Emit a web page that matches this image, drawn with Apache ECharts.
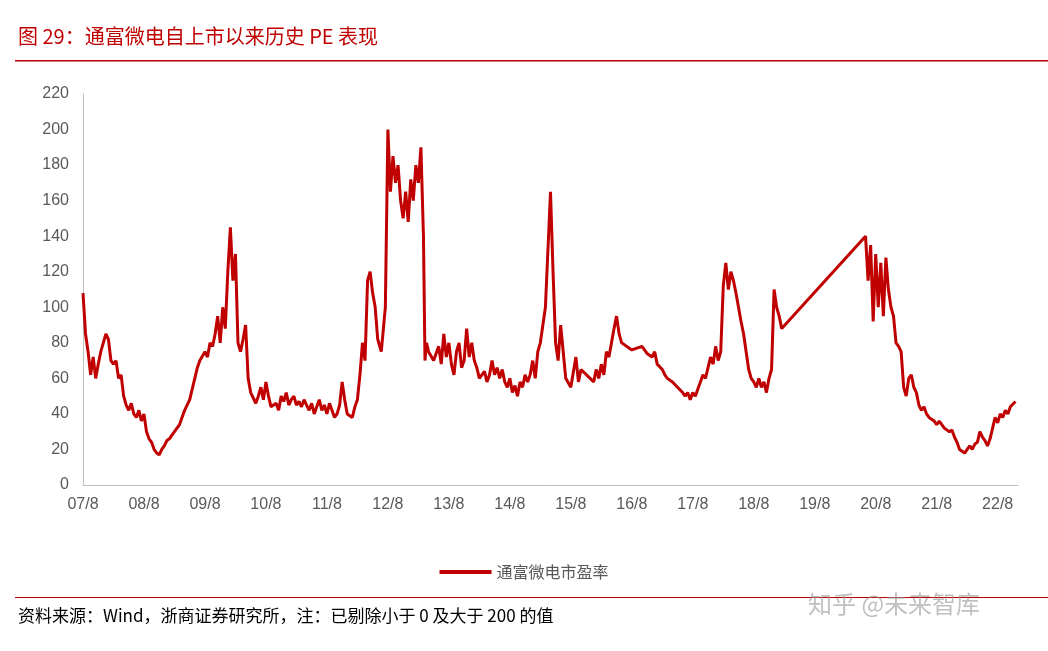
<!DOCTYPE html>
<html><head><meta charset="utf-8">
<script src="https://cdn.jsdelivr.net/npm/echarts@6/dist/echarts.min.js"></script>
<style>html,body{margin:0;padding:0;background:#fff}#c{width:1048px;height:651px}</style>
</head><body><div id="c"></div>
<script>
// [months since 2007/08, PE]
const peData = [
  [0,108],[0.5,85],[1,75],[1.5,62],[2,72],[2.5,60],[3,68],[3.5,75],[4,80],[4.5,85],[5,82],[5.5,70],[6,68],[6.5,70],[7,60],[7.5,62],[8,50],[8.5,45],[9,42],[9.5,46],[10,40],[10.5,38],[11,42],[11.5,36],[12,40],[12.5,30],[13,26],[13.5,24],[14,20],[14.5,18],[15,17],[15.5,20],[16,22],[16.5,25],[17,26],[17.5,28],[18,30],[19,34],[20,42],[21,48],[22,60],[22.5,66],[23,70],[24,75],[24.5,72],[25,80],[25.5,78],[26,85],[26.5,95],[27,80],[27.5,100],[28,88],[28.5,120],[29,145],[29.5,115],[30,130],[30.5,80],[31,75],[31.5,82],[32,90],[32.5,60],[33,52],[34,46],[34.5,50],[35,55],[35.5,48],[36,58],[36.5,50],[37,44],[38,46],[38.5,42],[39,50],[39.5,47],[40,52],[40.5,45],[41,48],[41.5,50],[42,45],[42.5,47],[43,44],[43.5,48],[44,45],[44.5,42],[45,46],[45.5,40],[46,44],[46.5,48],[47,42],[47.5,45],[48,40],[48.5,46],[49,42],[49.5,38],[50,40],[50.5,45],[51,58],[51.5,48],[52,40],[53,38],[53.5,44],[54,48],[54.5,62],[55,80],[55.5,70],[56,115],[56.5,120],[57,108],[57.5,100],[58,82],[58.7,75],[59.5,100],[60,200],[60.5,165],[61,185],[61.5,170],[62,180],[62.5,160],[63,150],[63.5,165],[64,148],[64.5,172],[65,160],[65.5,180],[66,170],[66.5,190],[67,140],[67.3,70],[67.6,80],[68,75],[69,70],[70,78],[70.5,68],[71,85],[71.5,72],[72,80],[72.5,68],[73,62],[73.5,75],[74,80],[74.5,66],[75,70],[75.5,88],[76,72],[76.5,80],[77,70],[77.5,66],[78,60],[79,64],[79.5,58],[80,62],[80.5,70],[81,62],[81.5,66],[82,60],[82.5,65],[83,58],[83.5,55],[84,60],[84.5,52],[85,56],[85.5,50],[86,58],[86.5,55],[87,62],[87.5,58],[88,62],[88.5,70],[89,60],[89.5,75],[90,80],[91,100],[92,165],[92.5,120],[93,80],[93.5,70],[94,90],[94.5,75],[95,60],[96,55],[97,72],[97.5,58],[98,65],
  [100.5,58],[101,65],[101.5,60],[102,68],[102.5,62],[103,75],[103.5,72],[104,80],[104.5,88],[105,95],[105.5,85],[106,80],[107,78],[108,76],[110,78],[111,74],[112,72],[112.5,75],[113,68],[114,65],[114.5,62],[115,60],[116,58],[117,55],[118,52],[118.5,50],[119,52],[119.5,48],[120,52],[120.5,50],[121,54],[121.5,58],[122,62],[122.5,60],[123,66],[123.5,72],[124,68],[124.5,78],[125,70],[125.5,75],[126,112],[126.5,125],[127,110],[127.5,120],[128,115],[128.5,108],[129,100],[129.5,92],[130,85],[130.5,75],[131,65],[131.5,60],[132,58],[132.5,55],[133,60],[133.5,55],[134,58],[134.5,52],[135,60],[135.5,65],[136,110],[136.5,100],[137,95],[137.5,88],
  [154,140],[154.5,115],[155,135],[155.5,92],[156,130],[156.5,100],[157,125],[157.5,95],[158,128],[158.5,110],[159,100],[159.5,95],[160,80],[160.5,78],[161,75],[161.5,55],[162,50],[162.5,60],[163,62],[163.5,55],[164,52],[164.5,45],[165,42],[165.5,44],[166,40],[166.5,38],[167.5,36],[168,34],[168.5,36],[169.5,32],[170.5,30],[171,31],[171.5,27],[172,24],[172.5,20],[173,19],[173.5,18],[174,20],[174.5,22],[175,20],[175.5,23],[176,24],[176.5,30],[177,27],[177.5,25],[178,22],[178.5,26],[179,32],[179.5,38],[180,35],[180.5,40],[181,38],[181.5,42],[182,40],[182.5,44],[183.5,47]
];
const yearLabels = ['07/8','08/8','09/8','10/8','11/8','12/8','13/8','14/8','15/8','16/8','17/8','18/8','19/8','20/8','21/8','22/8'];
const seriesName = '通富微电市盈率';

const chart = echarts.init(document.getElementById('c'));
const red = '#c00000';
chart.setOption({
  animation: false,
  grid: {left: 83, right: 30, top: 94, bottom: 166},
  xAxis: {
    type: 'value', min: 0, max: 184, interval: 12,
    axisLine: {lineStyle: {color: '#bfbfbf'}},
    axisTick: {show: false},
    splitLine: {show: false},
    axisLabel: {color: '#595959', fontSize: 16, margin: 12,
      formatter: v => yearLabels[Math.round(v / 12)] || ''}
  },
  yAxis: {
    type: 'value', min: 0, max: 220, interval: 20,
    axisLine: {show: true, lineStyle: {color: '#bfbfbf'}},
    axisTick: {show: false},
    splitLine: {show: false},
    axisLabel: {color: '#595959', fontSize: 16, margin: 14}
  },
  legend: {
    bottom: 66, left: 'center', itemWidth: 52, itemHeight: 4,
    textStyle: {color: '#595959', fontSize: 16, fontFamily: 'Noto Sans CJK SC'},
    data: [{name: seriesName, icon: 'rect'}]
  },
  series: [{
    name: seriesName, type: 'line', showSymbol: false,
    lineStyle: {color: red, width: 3}, itemStyle: {color: red},
    data: peData
  }],
  graphic: [
    {type: 'text', left: 18, top: 26, style: {text: '图 29：通富微电自上市以来历史 PE 表现', fill: red, fontSize: 20, fontFamily: 'Noto Sans CJK SC'}},
    {type: 'rect', shape: {x: 15, y: 60, width: 1033, height: 1.5}, style: {fill: red}},
    {type: 'rect', shape: {x: 15, y: 597, width: 1033, height: 1}, style: {fill: red}},
    {type: 'text', left: 18, top: 607, style: {text: '资料来源：Wind，浙商证券研究所，注：已剔除小于 0 及大于 200 的值', fill: '#000', fontSize: 17, fontFamily: 'Noto Sans CJK SC'}},
    {type: 'text', left: 808, top: 592, style: {text: '知乎 @未来智库', fill: 'rgba(150,150,150,0.6)', fontSize: 24, fontFamily: 'Noto Sans CJK SC'}}
  ]
});
</script></body></html>
